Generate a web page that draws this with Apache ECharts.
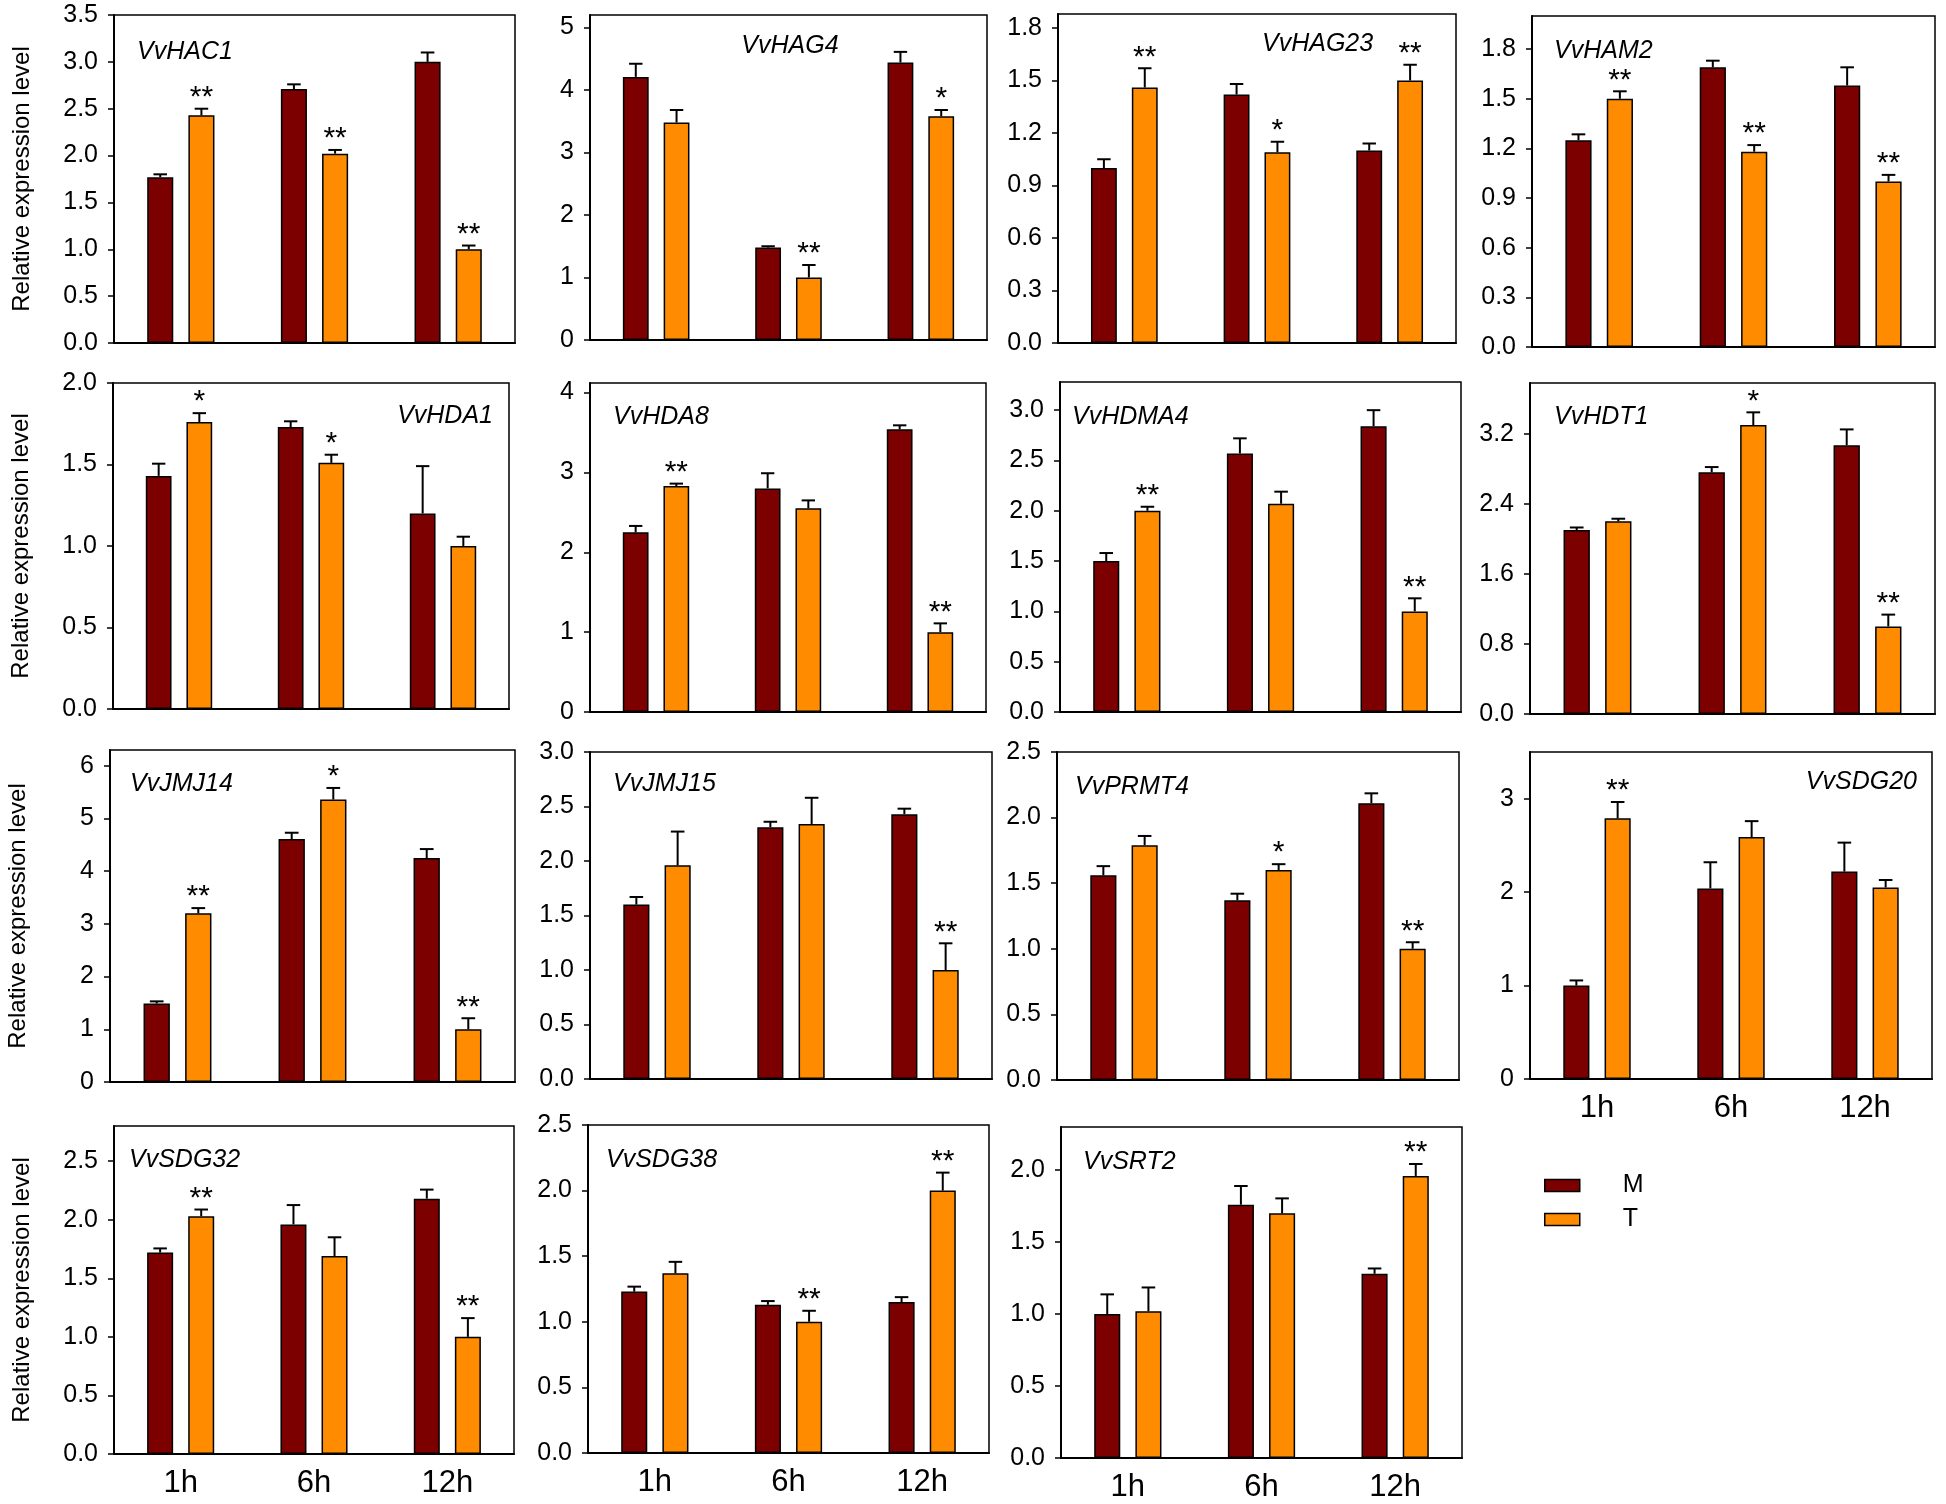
<!DOCTYPE html>
<html><head><meta charset="utf-8">
<script src="https://cdn.jsdelivr.net/npm/echarts@6/dist/echarts.min.js"></script>
<style>html,body{margin:0;padding:0;background:#fff}#c{width:1946px;height:1504px}</style>
</head><body><div id="c"></div>
<script>
// ---------------- data ----------------
const categories = ['1h', '6h', '12h'];
const seriesNames = ['M', 'T'];
const genes = ['VvHAC1','VvHAG4','VvHAG23','VvHAM2','VvHDA1','VvHDA8','VvHDMA4','VvHDT1',
               'VvJMJ14','VvJMJ15','VvPRMT4','VvSDG20','VvSDG32','VvSDG38','VvSRT2'];
const mMeans = [
  [1.77,2.71,3.00],[4.21,1.48,4.44],[1.00,1.42,1.10],[1.25,1.69,1.58],
  [1.43,1.73,1.20],[2.25,2.80,3.54],[1.50,2.57,2.84],[2.10,2.76,3.07],
  [1.49,4.61,4.25],[1.60,2.31,2.43],[1.56,1.37,2.11],[1.00,2.04,2.22],
  [1.72,1.96,2.18],[1.23,1.13,1.15],[1.00,1.76,1.28]
];
const mErrs = [
  [0.03,0.05,0.10],[0.21,0.02,0.17],[0.05,0.06,0.04],[0.035,0.04,0.11],
  [0.075,0.035,0.29],[0.08,0.19,0.05],[0.08,0.15,0.16],[0.03,0.06,0.18],
  [0.04,0.12,0.17],[0.07,0.05,0.05],[0.07,0.05,0.075],[0.055,0.28,0.31],
  [0.035,0.165,0.077],[0.038,0.028,0.038],[0.137,0.13,0.037]
];
const tMeans = [
  [2.43,2.02,1.00],[3.48,1.00,3.58],[1.46,1.09,1.50],[1.50,1.18,1.00],
  [1.76,1.51,1.00],[2.83,2.55,1.00],[2.00,2.07,1.00],[2.20,3.30,1.00],
  [3.20,5.36,1.00],[1.96,2.34,1.00],[1.79,1.60,1.00],[2.79,2.59,2.05],
  [2.03,1.69,1.00],[1.37,1.00,2.00],[1.02,1.70,1.96]
];
const tErrs = [
  [0.07,0.04,0.04],[0.20,0.20,0.10],[0.11,0.06,0.09],[0.045,0.04,0.04],
  [0.055,0.05,0.057],[0.03,0.10,0.11],[0.04,0.12,0.13],[0.03,0.145,0.135],
  [0.10,0.22,0.21],[0.31,0.24,0.245],[0.07,0.045,0.05],[0.175,0.17,0.08],
  [0.057,0.16,0.16],[0.087,0.084,0.137],[0.165,0.104,0.083]
];
const tSig = [
  ['**','**','**'],['','**','*'],['**','*','**'],['**','**','**'],
  ['*','*',''],['**','','**'],['**','','**'],['','*','**'],
  ['**','*','**'],['','','**'],['','*','**'],['**','',''],
  ['**','','**'],['','**','**'],['','','**']
];
const yMax = [3.5,5.2,1.88,2.0,2.0,4.12,3.28,3.78,6.3,3.0,2.5,3.5,2.8,2.5,2.3];
const yTickLabels = [
  ['0.0','0.5','1.0','1.5','2.0','2.5','3.0','3.5'],
  ['0','1','2','3','4','5'],
  ['0.0','0.3','0.6','0.9','1.2','1.5','1.8'],
  ['0.0','0.3','0.6','0.9','1.2','1.5','1.8'],
  ['0.0','0.5','1.0','1.5','2.0'],
  ['0','1','2','3','4'],
  ['0.0','0.5','1.0','1.5','2.0','2.5','3.0'],
  ['0.0','0.8','1.6','2.4','3.2'],
  ['0','1','2','3','4','5','6'],
  ['0.0','0.5','1.0','1.5','2.0','2.5','3.0'],
  ['0.0','0.5','1.0','1.5','2.0','2.5'],
  ['0','1','2','3'],
  ['0.0','0.5','1.0','1.5','2.0','2.5'],
  ['0.0','0.5','1.0','1.5','2.0','2.5'],
  ['0.0','0.5','1.0','1.5','2.0']
];
const yAxisTitle = 'Relative expression level';

// ---------------- layout ----------------
const gridRects = [
  [114,15,401,328],[590,15,397,325],[1058,14,398,329],[1532,16,403,331],
  [113,383,396,326],[590,383,396,329],[1060,382,401,330],[1530,383,405,331],
  [110,750,405,332],[590,752,402,327],[1057,752,402,328],[1530,752,402,327],
  [114,1126,400,328],[588,1125,401,328],[1061,1127,401,331]
];
const titlePos = [
  [137,52,'left'],[790,46,'center'],[1262,44,'left'],[1554,51,'left'],
  [493,416,'right'],[613,417,'left'],[1072,417,'left'],[1554,417,'left'],
  [130,784,'left'],[613,784,'left'],[1075,787,'left'],[1917,782,'right'],
  [129,1160,'left'],[606,1160,'left'],[1083,1162,'left']
];
const yNamePanels = [0,4,8,12];
const xLabelPanels = [11,12,13,14];
const colors = ['#7C0000', '#FF8C00'];
const FONT = '"Liberation Sans", Arial, sans-serif';
const BARW = 0.195, GAP = 0.58;

const grid = [], xAxis = [], yAxis = [], series = [];
gridRects.forEach((r, i) => {
  grid.push({left:r[0], top:r[1], width:r[2], height:r[3], show:true,
             borderColor:'#000', borderWidth:1.5, backgroundColor:'transparent'});
  xAxis.push({
    gridIndex:i, type:'category', data:categories,
    axisLine:{lineStyle:{color:'#000', width:2}},
    axisTick:{alignWithLabel:true, length:8, lineStyle:{color:'#000', width:2}},
    axisLabel:{show:xLabelPanels.includes(i), fontSize:31, color:'#000', margin:14, fontFamily:FONT},
    splitLine:{show:false}
  });
  const ticks = yTickLabels[i].map(Number);
  yAxis.push({
    gridIndex:i, type:'value', min:0, max:yMax[i],
    axisLine:{show:true, lineStyle:{color:'#000', width:2}},
    axisTick:{show:true, length:6, customValues:ticks, lineStyle:{color:'#000', width:1.5}},
    axisLabel:{customValues:ticks, fontSize:25, color:'#000', margin:16, fontFamily:FONT,
               formatter:(v) => { const k = ticks.indexOf(v); return k >= 0 ? yTickLabels[i][k] : ''; }},
    splitLine:{show:false},
    name: yNamePanels.includes(i) ? yAxisTitle : '',
    nameLocation:'middle', nameGap:80,
    nameTextStyle:{fontSize:24, color:'#000', fontFamily:FONT}
  });
  [mMeans[i], tMeans[i]].forEach((vals, s) => {
    series.push({
      type:'bar', name:seriesNames[s], xAxisIndex:i, yAxisIndex:i,
      data:vals, barWidth:(BARW*100)+'%', barGap:(GAP*100)+'%',
      itemStyle:{color:colors[s], borderColor:'#000', borderWidth:1.5},
      emphasis:{disabled:true}, z:2
    });
  });
  series.push({
    type:'custom', xAxisIndex:i, yAxisIndex:i, z:5, silent:true,
    data: categories.map((c, j) => [j, mMeans[i][j], mErrs[i][j], tMeans[i][j], tErrs[i][j]]),
    encode:{x:0, y:1},
    renderItem:(params, api) => {
      const j = api.value(0);
      const c = api.coord([j, 0]);
      const band = api.size([1, 0])[0];
      const bw = band * BARW, off = bw * (1 + GAP) / 2, cap = bw * 0.26;
      const children = [];
      let topT = 0, xT = 0;
      [[api.value(1), api.value(2), -1], [api.value(3), api.value(4), 1]].forEach(([v, e, sgn]) => {
        const x = c[0] + sgn * off;
        const y0 = api.coord([j, v])[1], y1 = api.coord([j, v + e])[1];
        children.push({type:'line', shape:{x1:x, y1:y0, x2:x, y2:y1}, style:{stroke:'#000', lineWidth:2}});
        children.push({type:'line', shape:{x1:x - cap, y1:y1, x2:x + cap, y2:y1}, style:{stroke:'#000', lineWidth:2}});
        if (sgn > 0) { topT = y1; xT = x; }
      });
      const sig = tSig[i][params.dataIndex];
      if (sig) {
        children.push({type:'text', x:xT, y:topT + 4,
          style:{text:sig, fontSize:30, fill:'#000', align:'center', verticalAlign:'bottom', fontFamily:FONT}});
      }
      return {type:'group', children};
    }
  });
});

const graphic = genes.map((g, i) => ({
  type:'text', x:titlePos[i][0], y:titlePos[i][1], silent:true,
  style:{text:g, fontSize:25, fontStyle:'italic', fontFamily:FONT, fill:'#000',
         align:titlePos[i][2], verticalAlign:'middle'}
}));

const chart = echarts.init(document.getElementById('c'));
chart.setOption({
  animation:false,
  backgroundColor:'#fff',
  textStyle:{fontFamily:FONT},
  grid, xAxis, yAxis, series, graphic,
  legend:{
    data:seriesNames, orient:'vertical', left:1539, top:1168,
    itemWidth:35, itemHeight:12, itemGap:9, icon:'rect',
    itemStyle:{borderColor:'#000', borderWidth:1.5},
    textStyle:{fontSize:25, color:'#000', fontFamily:FONT, padding:[0,0,0,38]},
    selectedMode:false
  }
});
</script></body></html>
